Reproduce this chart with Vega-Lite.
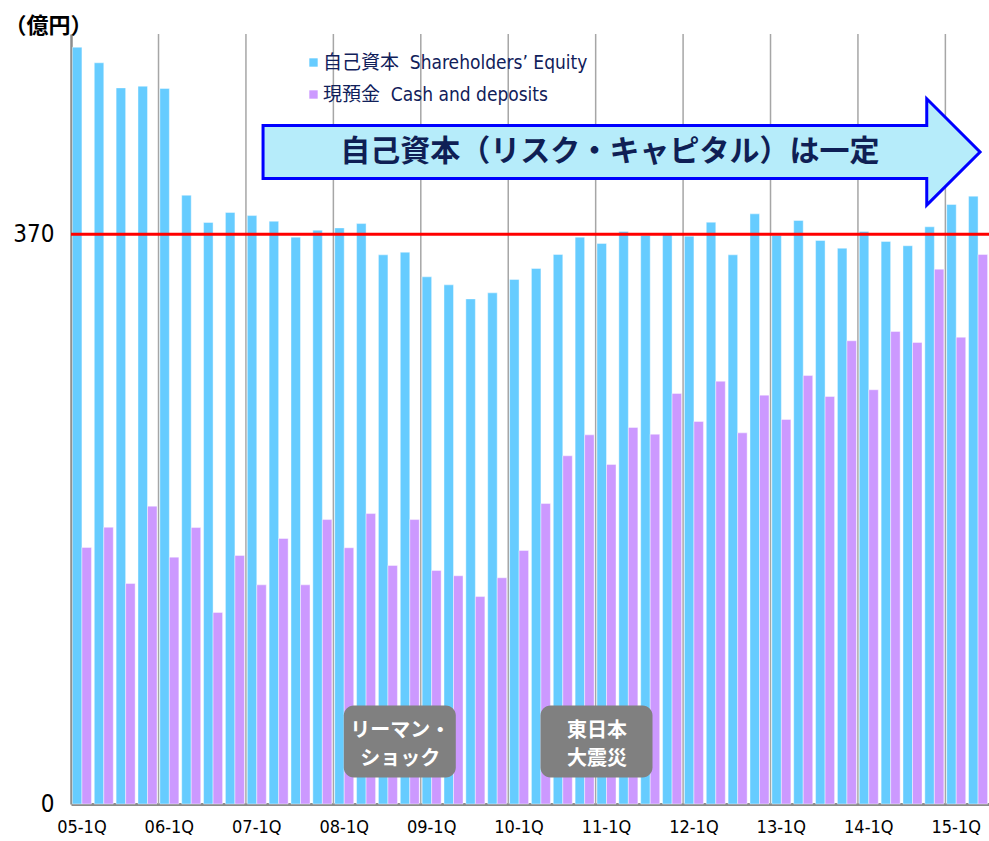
{
  "$schema": "https://vega.github.io/schema/vega-lite/v6.json",
  "width": 918,
  "height": 770,
  "autosize": {"type": "none"},
  "padding": {"left": 71, "top": 34, "right": 0, "bottom": 37},
  "background": "white",
  "config": {
    "view": {"stroke": null},
    "font": "Liberation Sans Narrow, DejaVu Sans Condensed, Noto Sans CJK JP, sans-serif"
  },
  "datasets": {
    "main": [
      {"q":"05-1Q","s":"自己資本","v":491.4},{"q":"05-1Q","s":"現預金","v":166.6},
      {"q":"05-2Q","s":"自己資本","v":481.3},{"q":"05-2Q","s":"現預金","v":179.7},
      {"q":"05-3Q","s":"自己資本","v":465.0},{"q":"05-3Q","s":"現預金","v":143.2},
      {"q":"05-4Q","s":"自己資本","v":466.1},{"q":"05-4Q","s":"現預金","v":193.4},
      {"q":"06-1Q","s":"自己資本","v":464.6},{"q":"06-1Q","s":"現預金","v":160.3},
      {"q":"06-2Q","s":"自己資本","v":395.3},{"q":"06-2Q","s":"現預金","v":179.5},
      {"q":"06-3Q","s":"自己資本","v":377.6},{"q":"06-3Q","s":"現預金","v":124.4},
      {"q":"06-4Q","s":"自己資本","v":384.1},{"q":"06-4Q","s":"現預金","v":161.4},
      {"q":"07-1Q","s":"自己資本","v":382.1},{"q":"07-1Q","s":"現預金","v":142.3},
      {"q":"07-2Q","s":"自己資本","v":378.4},{"q":"07-2Q","s":"現預金","v":172.4},
      {"q":"07-3Q","s":"自己資本","v":368.1},{"q":"07-3Q","s":"現預金","v":142.3},
      {"q":"07-4Q","s":"自己資本","v":372.6},{"q":"07-4Q","s":"現預金","v":184.7},
      {"q":"08-1Q","s":"自己資本","v":374.1},{"q":"08-1Q","s":"現預金","v":166.4},
      {"q":"08-2Q","s":"自己資本","v":376.9},{"q":"08-2Q","s":"現預金","v":188.6},
      {"q":"08-3Q","s":"自己資本","v":356.6},{"q":"08-3Q","s":"現預金","v":154.9},
      {"q":"08-4Q","s":"自己資本","v":358.3},{"q":"08-4Q","s":"現預金","v":184.7},
      {"q":"09-1Q","s":"自己資本","v":342.3},{"q":"09-1Q","s":"現預金","v":151.6},
      {"q":"09-2Q","s":"自己資本","v":337.1},{"q":"09-2Q","s":"現預金","v":148.2},
      {"q":"09-3Q","s":"自己資本","v":328.0},{"q":"09-3Q","s":"現預金","v":134.7},
      {"q":"09-4Q","s":"自己資本","v":331.9},{"q":"09-4Q","s":"現預金","v":146.9},
      {"q":"10-1Q","s":"自己資本","v":340.6},{"q":"10-1Q","s":"現預金","v":164.6},
      {"q":"10-2Q","s":"自己資本","v":347.7},{"q":"10-2Q","s":"現預金","v":195.1},
      {"q":"10-3Q","s":"自己資本","v":356.8},{"q":"10-3Q","s":"現預金","v":226.1},
      {"q":"10-4Q","s":"自己資本","v":368.1},{"q":"10-4Q","s":"現預金","v":239.7},
      {"q":"11-1Q","s":"自己資本","v":364.0},{"q":"11-1Q","s":"現預金","v":220.5},
      {"q":"11-2Q","s":"自己資本","v":371.8},{"q":"11-2Q","s":"現預金","v":244.5},
      {"q":"11-3Q","s":"自己資本","v":369.2},{"q":"11-3Q","s":"現預金","v":240.1},
      {"q":"11-4Q","s":"自己資本","v":370.7},{"q":"11-4Q","s":"現預金","v":266.6},
      {"q":"12-1Q","s":"自己資本","v":368.7},{"q":"12-1Q","s":"現預金","v":248.4},
      {"q":"12-2Q","s":"自己資本","v":377.8},{"q":"12-2Q","s":"現預金","v":274.5},
      {"q":"12-3Q","s":"自己資本","v":356.6},{"q":"12-3Q","s":"現預金","v":241.0},
      {"q":"12-4Q","s":"自己資本","v":383.2},{"q":"12-4Q","s":"現預金","v":265.5},
      {"q":"13-1Q","s":"自己資本","v":369.2},{"q":"13-1Q","s":"現預金","v":249.7},
      {"q":"13-2Q","s":"自己資本","v":378.9},{"q":"13-2Q","s":"現預金","v":278.2},
      {"q":"13-3Q","s":"自己資本","v":365.9},{"q":"13-3Q","s":"現預金","v":264.6},
      {"q":"13-4Q","s":"自己資本","v":360.9},{"q":"13-4Q","s":"現預金","v":300.8},
      {"q":"14-1Q","s":"自己資本","v":371.8},{"q":"14-1Q","s":"現預金","v":269.0},
      {"q":"14-2Q","s":"自己資本","v":365.3},{"q":"14-2Q","s":"現預金","v":306.8},
      {"q":"14-3Q","s":"自己資本","v":362.5},{"q":"14-3Q","s":"現預金","v":299.7},
      {"q":"14-4Q","s":"自己資本","v":374.8},{"q":"14-4Q","s":"現預金","v":347.3},
      {"q":"15-1Q","s":"自己資本","v":389.3},{"q":"15-1Q","s":"現預金","v":303.1},
      {"q":"15-2Q","s":"自己資本","v":394.7},{"q":"15-2Q","s":"現預金","v":356.8}
    ],
    "events": [
      {"q":"08-4Q","lo":17.2,"hi":64.0,"ty":47.7,"t":"リーマン・\nショック"},
      {"q":"11-1Q","lo":17.2,"hi":64.0,"ty":47.7,"t":"東日本\n大震災"}
    ],
    "arrow": [
      {"q":"11-2Q","v":423.4,"t":"自己資本（リスク・キャピタル）は一定"}
    ],
    "line": [{"v":370}]
  },
  "data": {"name": "main"},
  "encoding": {
    "x": {
      "field": "q", "type": "ordinal", "sort": "ascending", "title": null,
      "scale": {"paddingInner": 0.13, "paddingOuter": 0.065},
      "axis": {
        "values": ["05-1Q","06-1Q","07-1Q","08-1Q","09-1Q","10-1Q","11-1Q","12-1Q","13-1Q","14-1Q","15-1Q"],
        "labelAngle": 0, "ticks": false, "grid": false,
        "domainColor": "#8c8c8c", "domainWidth": 3,
        "labelFontSize": 18, "labelPadding": 14, "labelColor": "#000000",
        "labelFont": "Liberation Sans Narrow, DejaVu Sans Condensed, sans-serif"
      }
    }
  },
  "layer": [
    {
      "transform": [{"filter": "datum.s == '自己資本' && indexof(datum.q, '-1Q') > 0 && datum.q != '05-1Q'"}],
      "mark": {"type": "rule", "color": "#a6a6a6", "strokeWidth": 1.5},
      "encoding": {"x": {"field": "q", "type": "ordinal", "sort": "ascending", "bandPosition": -0.07}}
    },
    {
      "mark": {"type": "bar", "stroke": "#ffffff", "strokeWidth": 0.6, "strokeOpacity": 0.7},
      "encoding": {
        "xOffset": {"field": "s", "type": "nominal", "sort": ["自己資本","現預金"], "scale": {"paddingInner": 0}},
        "y": {
          "field": "v", "type": "quantitative", "title": "（億円）",
          "scale": {"domain": [0, 500], "nice": false},
          "axis": {
            "values": [0, 370], "grid": false, "ticks": false,
            "domainColor": "#8c8c8c", "domainWidth": 2.5,
            "labelFontSize": 24, "labelPadding": 17, "labelColor": "#000000",
            "labelFont": "Liberation Sans Narrow, DejaVu Sans Condensed, sans-serif",
            "titleAngle": 0, "titleX": -67, "titleY": -9, "titleAlign": "left", "titleBaseline": "middle",
            "titleFontSize": 22, "titleFontWeight": "bold", "titleColor": "#000000",
            "titleFont": "Noto Sans CJK JP"
          }
        },
        "color": {
          "field": "s", "type": "nominal",
          "scale": {"domain": ["自己資本","現預金"], "range": ["#66CCFF","#CC99FF"]},
          "legend": {
            "title": null, "orient": "none", "legendX": 233, "legendY": 19,
            "symbolType": "square", "symbolSize": 70, "symbolStrokeWidth": 0,
            "labelFontSize": 19, "labelColor": "#10205a", "labelLimit": 400, "labelOffset": 0,
            "labelFont": "Liberation Sans Narrow, DejaVu Sans Condensed, Noto Sans CJK JP, sans-serif",
            "rowPadding": 12,
            "labelExpr": "datum.label == '自己資本' ? '自己資本\u00a0\u00a0Shareholders’ Equity' : '現預金\u00a0\u00a0Cash and deposits'"
          }
        }
      }
    },
    {
      "data": {"name": "line"},
      "mark": {"type": "rule", "color": "#FF0000", "strokeWidth": 3},
      "encoding": {"y": {"field": "v", "type": "quantitative"}, "x": null}
    },
    {
      "data": {"name": "arrow"},
      "mark": {
        "type": "point", "filled": true, "size": 40000, "opacity": 1,
        "fill": "#B6ECFA", "stroke": "#0000FF", "strokeWidth": 3,
        "shape": "M-3.558,-0.265L3.079,-0.265L3.079,-0.532L3.612,0L3.079,0.532L3.079,0.265L-3.558,0.265Z"
      },
      "encoding": {
        "x": {"field": "q", "type": "ordinal", "sort": "ascending", "bandPosition": 0},
        "y": {"field": "v", "type": "quantitative"}
      }
    },
    {
      "data": {"name": "arrow"},
      "mark": {
        "type": "text", "fontSize": 30, "fontWeight": "bold", "color": "#0f1f55",
        "font": "Noto Sans CJK JP", "baseline": "middle", "align": "center", "dx": -9
      },
      "encoding": {
        "x": {"field": "q", "type": "ordinal", "sort": "ascending", "bandPosition": 0},
        "y": {"field": "v", "type": "quantitative"},
        "text": {"field": "t"}
      }
    },
    {
      "data": {"name": "events"},
      "mark": {"type": "bar", "width": 112, "color": "#808080", "cornerRadius": 10, "xOffset": -10},
      "encoding": {
        "x": {"field": "q", "type": "ordinal", "sort": "ascending"},
        "y": {"field": "hi", "type": "quantitative"},
        "y2": {"field": "lo"}
      }
    },
    {
      "data": {"name": "events"},
      "mark": {
        "type": "text", "fontSize": 20, "fontWeight": "bold", "color": "#ffffff",
        "font": "Noto Sans CJK JP", "baseline": "middle", "align": "center",
        "lineBreak": "\n", "lineHeight": 28
      },
      "encoding": {
        "x": {"field": "q", "type": "ordinal", "sort": "ascending", "bandPosition": 0},
        "y": {"field": "ty", "type": "quantitative"},
        "text": {"field": "t"}
      }
    }
  ]
}
